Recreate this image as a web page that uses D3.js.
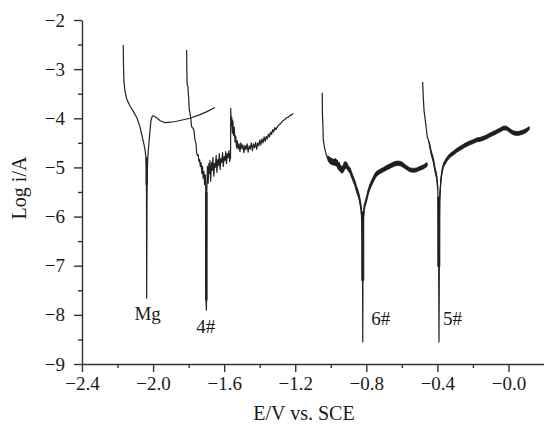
<!DOCTYPE html>
<html>
<head>
<meta charset="utf-8">
<script src="https://cdn.jsdelivr.net/npm/d3@7"></script>
<style>
  body { margin: 0; background: #fff; }
  text { font-family: "Liberation Serif", "Times New Roman", serif; fill: #1a1a1a; }
</style>
</head>
<body>
<div id="chart"></div>
<script>
// axis ticks
const xTicks = [-2.4, -2.0, -1.6, -1.2, -0.8, -0.4, 0.0];
const xTickLabels = ["−2.4", "−2.0", "−1.6", "−1.2", "−0.8", "−0.4", "−0.0"];
const xMinor = [-2.2, -1.8, -1.4, -1.0, -0.6, -0.2];
const yTicks = [-9, -8, -7, -6, -5, -4, -3, -2];
const yTickLabels = ["−9", "−8", "−7", "−6", "−5", "−4", "−3", "−2"];
const yMinor = [-8.5, -7.5, -6.5, -5.5, -4.5, -3.5, -2.5];

// sample names + where their labels sit (E, log i)
const sampleNames = ["Mg", "4#", "6#", "5#"];
const labelE = [-2.105, -1.757, -0.772, -0.369];
const labelLogI = [-8.10, -8.37, -8.20, -8.20];

// polarization curves, [E (V vs SCE), log i]
const mgCurve = [
  [-2.168, -2.51], [-2.166, -3.0], [-2.164, -3.25], [-2.158, -3.45], [-2.149, -3.6],
  [-2.130, -3.75], [-2.111, -3.86], [-2.090, -4.0], [-2.074, -4.17], [-2.064, -4.33],
  [-2.053, -4.5], [-2.045, -4.65], [-2.040, -4.8], [-2.038, -5.0], [-2.037, -5.6],
  [-2.036, -7.66], [-2.034, -5.6], [-2.032, -5.0], [-2.028, -4.7], [-2.022, -4.45],
  [-2.017, -4.24], [-2.012, -4.05], [-2.006, -3.97], [-1.999, -3.95], [-1.990, -3.97],
  [-1.980, -3.99], [-1.960, -4.05], [-1.933, -4.09], [-1.900, -4.08], [-1.867, -4.06],
  [-1.830, -4.03], [-1.792, -4.0], [-1.740, -3.93], [-1.700, -3.87], [-1.652, -3.78]
];

const s4Curve = [
  [-1.811, -2.61], [-1.810, -3.0], [-1.808, -3.32], [-1.804, -3.35], [-1.802, -3.5],
  [-1.800, -3.55], [-1.797, -3.8], [-1.792, -3.9], [-1.788, -4.0], [-1.785, -4.1],
  [-1.783, -4.17], [-1.776, -4.2], [-1.770, -4.24], [-1.767, -4.35], [-1.764, -4.44],
  [-1.758, -4.52], [-1.755, -4.7], [-1.750, -4.76], [-1.746, -4.74], [-1.742, -4.88],
  [-1.738, -4.84], [-1.734, -4.98], [-1.730, -4.9], [-1.726, -5.12], [-1.722, -4.98],
  [-1.718, -5.22], [-1.714, -5.08], [-1.710, -5.35], [-1.706, -5.15], [-1.703, -5.5],
  [-1.702, -7.7], [-1.700, -7.9], [-1.699, -7.7], [-1.698, -5.5],
  [-1.697, -5.4], [-1.694, -4.98], [-1.690, -5.32], [-1.686, -4.92], [-1.683, -5.12],
  [-1.680, -4.86], [-1.676, -5.28], [-1.671, -4.9], [-1.667, -5.06], [-1.663, -4.8],
  [-1.658, -5.18], [-1.654, -4.92], [-1.650, -5.0], [-1.645, -4.76], [-1.641, -5.1],
  [-1.636, -4.84], [-1.632, -4.96], [-1.627, -4.72], [-1.623, -5.04], [-1.618, -4.82],
  [-1.614, -4.9], [-1.609, -4.7], [-1.605, -4.98], [-1.600, -4.78], [-1.596, -4.86],
  [-1.591, -4.68], [-1.587, -4.92], [-1.582, -4.72], [-1.578, -4.8], [-1.573, -4.66],
  [-1.569, -4.88], [-1.565, -4.72], [-1.564, -4.82],
  [-1.563, -3.8], [-1.560, -4.15], [-1.557, -3.98], [-1.554, -4.3], [-1.551, -4.05],
  [-1.547, -4.35], [-1.543, -4.18], [-1.539, -4.48], [-1.535, -4.36], [-1.530, -4.6],
  [-1.526, -4.46], [-1.521, -4.63], [-1.516, -4.52], [-1.511, -4.68], [-1.506, -4.5],
  [-1.500, -4.62], [-1.495, -4.54], [-1.489, -4.7], [-1.483, -4.55], [-1.477, -4.64],
  [-1.471, -4.52], [-1.465, -4.69], [-1.459, -4.56], [-1.453, -4.63], [-1.447, -4.5],
  [-1.441, -4.66], [-1.435, -4.52], [-1.429, -4.6], [-1.423, -4.49], [-1.417, -4.63],
  [-1.411, -4.5], [-1.405, -4.56], [-1.399, -4.44], [-1.393, -4.54], [-1.387, -4.42],
  [-1.381, -4.5], [-1.375, -4.38], [-1.369, -4.47], [-1.363, -4.37], [-1.357, -4.42],
  [-1.351, -4.32], [-1.345, -4.38], [-1.339, -4.28], [-1.333, -4.33], [-1.327, -4.23],
  [-1.321, -4.28], [-1.315, -4.19], [-1.309, -4.23], [-1.300, -4.17], [-1.290, -4.13],
  [-1.280, -4.1], [-1.270, -4.05], [-1.260, -4.03], [-1.250, -3.99], [-1.240, -3.98],
  [-1.230, -3.94], [-1.220, -3.93], [-1.211, -3.90]
];

const s6Curve = [
  [-1.048, -3.48], [-1.047, -3.9], [-1.044, -4.17], [-1.042, -4.45], [-1.035, -4.6],
  [-1.027, -4.72], [-1.020, -4.8], [-1.012, -4.85], [-1.004, -4.8], [-1.000, -4.89],
  [-0.993, -4.82], [-0.986, -4.91], [-0.979, -4.84], [-0.967, -4.92], [-0.962, -4.86],
  [-0.958, -4.99], [-0.952, -4.9], [-0.948, -5.03], [-0.938, -5.07], [-0.930, -5.05],
  [-0.924, -4.9], [-0.920, -4.97], [-0.915, -4.9], [-0.910, -4.97], [-0.900, -5.04],
  [-0.892, -5.07], [-0.878, -5.2], [-0.864, -5.33], [-0.855, -5.45], [-0.845, -5.55],
  [-0.838, -5.65], [-0.830, -5.82], [-0.825, -6.05], [-0.822, -6.6], [-0.821, -7.3],
  [-0.820, -8.55], [-0.819, -7.3], [-0.818, -6.5], [-0.816, -5.98], [-0.812, -5.83],
  [-0.807, -5.76], [-0.799, -5.65], [-0.789, -5.5], [-0.779, -5.39], [-0.765, -5.28],
  [-0.751, -5.18], [-0.742, -5.13], [-0.725, -5.09], [-0.704, -5.05], [-0.685, -5.01],
  [-0.657, -4.96], [-0.640, -4.93], [-0.620, -4.92], [-0.605, -4.93], [-0.592, -4.96],
  [-0.575, -5.0], [-0.554, -5.05], [-0.535, -5.06], [-0.517, -5.05], [-0.500, -5.02],
  [-0.479, -4.99], [-0.455, -4.94]
];

const s5Curve = [
  [-0.483, -3.26], [-0.479, -3.6], [-0.475, -3.85], [-0.466, -4.1], [-0.457, -4.375],
  [-0.446, -4.5], [-0.435, -4.7], [-0.423, -4.85], [-0.413, -5.05], [-0.404, -5.19],
  [-0.398, -5.4], [-0.396, -5.7], [-0.395, -5.93], [-0.393, -7.0], [-0.391, -8.55],
  [-0.389, -7.0], [-0.388, -6.0], [-0.386, -5.56], [-0.380, -5.25], [-0.374, -5.08],
  [-0.365, -4.95], [-0.348, -4.84], [-0.330, -4.76], [-0.311, -4.71], [-0.290, -4.65],
  [-0.263, -4.59], [-0.240, -4.54], [-0.217, -4.5], [-0.195, -4.47], [-0.179, -4.44],
  [-0.160, -4.43], [-0.130, -4.39], [-0.104, -4.34], [-0.075, -4.29], [-0.048, -4.24],
  [-0.029, -4.2], [-0.012, -4.2], [0.000, -4.23], [0.015, -4.27], [0.030, -4.3],
  [0.050, -4.31], [0.065, -4.3], [0.083, -4.28], [0.100, -4.25], [0.117, -4.2]
];

const mgNoise = [[-2.040, -5.35, -4.8], [-2.033, -5.35, -4.8]];
const s4Noise = [[-1.705, -7.7, -5.5], [-1.696, -7.7, -5.5]];
const s6Noise = [
  [[-1.016, -4.86, -4.76], [-1.005, -4.92, -4.8], [-0.995, -4.94, -4.82], [-0.986, -4.95, -4.84],
   [-0.975, -4.96, -4.82], [-0.967, -4.97, -4.84], [-0.958, -5.04, -4.9], [-0.948, -5.08, -4.94],
   [-0.938, -5.12, -4.98], [-0.930, -5.1, -4.96], [-0.920, -5.02, -4.88], [-0.910, -5.02, -4.9],
   [-0.900, -5.08, -4.98], [-0.892, -5.12, -5.0], [-0.878, -5.25, -5.14], [-0.864, -5.38, -5.27],
   [-0.855, -5.5, -5.38], [-0.845, -5.6, -5.48], [-0.838, -5.7, -5.58], [-0.830, -5.88, -5.74],
   [-0.826, -6.1, -5.9]],
  [[-0.826, -7.3, -5.9], [-0.814, -7.3, -5.9]],
  [[-0.816, -6.05, -5.9], [-0.812, -5.88, -5.76], [-0.807, -5.8, -5.7], [-0.799, -5.7, -5.59],
   [-0.789, -5.55, -5.44], [-0.779, -5.44, -5.33], [-0.765, -5.33, -5.22], [-0.751, -5.23, -5.12],
   [-0.742, -5.18, -5.08], [-0.725, -5.13, -5.04], [-0.704, -5.09, -5.0], [-0.685, -5.05, -4.96],
   [-0.657, -5.0, -4.91], [-0.640, -4.97, -4.88], [-0.620, -4.96, -4.87], [-0.605, -4.97, -4.88],
   [-0.592, -5.0, -4.91], [-0.575, -5.04, -4.96], [-0.554, -5.09, -5.01], [-0.535, -5.1, -5.02],
   [-0.517, -5.09, -5.01], [-0.500, -5.06, -4.98], [-0.479, -5.03, -4.95], [-0.458, -4.98, -4.9]]
];
const s5Noise = [
  [[-0.446, -4.53, -4.47], [-0.435, -4.74, -4.66], [-0.423, -4.9, -4.8], [-0.413, -5.1, -5.0],
   [-0.404, -5.24, -5.14], [-0.399, -5.45, -5.35]],
  [[-0.398, -7.02, -5.6], [-0.386, -7.02, -5.6]],
  [[-0.386, -5.62, -5.5], [-0.380, -5.3, -5.2], [-0.374, -5.12, -5.04], [-0.365, -4.99, -4.91],
   [-0.348, -4.88, -4.8], [-0.330, -4.8, -4.72], [-0.311, -4.75, -4.67], [-0.290, -4.69, -4.61],
   [-0.263, -4.63, -4.55], [-0.240, -4.58, -4.5], [-0.217, -4.54, -4.46], [-0.195, -4.51, -4.43],
   [-0.179, -4.48, -4.4], [-0.160, -4.47, -4.39], [-0.130, -4.43, -4.35], [-0.104, -4.38, -4.3],
   [-0.075, -4.33, -4.25], [-0.048, -4.28, -4.2], [-0.029, -4.24, -4.16], [-0.012, -4.24, -4.16],
   [0.000, -4.27, -4.19], [0.015, -4.31, -4.23], [0.030, -4.34, -4.26], [0.050, -4.35, -4.27],
   [0.065, -4.34, -4.26], [0.083, -4.32, -4.24], [0.100, -4.29, -4.21], [0.117, -4.23, -4.17]]
];

const width = 544, height = 436;

const svg = d3.select("#chart").append("svg")
    .attr("width", width)
    .attr("height", height);

const x = d3.scaleLinear().domain([-2.4, 0.2]).range([82, 544]);
const y = d3.scaleLinear().domain([-9, -2]).range([364, 20]);

const axisColor = "#333";

// x axis
svg.append("g")
    .attr("transform", `translate(0,${y(-9)})`)
    .call(d3.axisBottom(x).tickValues(xTicks).tickSize(8).tickSizeOuter(0).tickPadding(5)
        .tickFormat((d, i) => xTickLabels[i]));
svg.append("g")
    .attr("transform", `translate(0,${y(-9)})`)
    .call(d3.axisBottom(x).tickValues(xMinor).tickSize(4).tickFormat(""))
    .call(g => g.select(".domain").remove());

// y axis
svg.append("g")
    .attr("transform", `translate(${x(-2.4)},0)`)
    .call(d3.axisLeft(y).tickValues(yTicks).tickSize(8).tickSizeOuter(0).tickPadding(9)
        .tickFormat((d, i) => yTickLabels[i]));
svg.append("g")
    .attr("transform", `translate(${x(-2.4)},0)`)
    .call(d3.axisLeft(y).tickValues(yMinor).tickSize(4).tickFormat(""))
    .call(g => g.select(".domain").remove());

svg.selectAll(".domain, .tick line")
    .attr("stroke", axisColor)
    .attr("stroke-width", 1.4);
svg.selectAll(".tick text")
    .attr("font-family", null)
    .attr("font-size", 19)
    .attr("fill", "#1a1a1a");

// axis titles
svg.append("text")
    .attr("x", 304)
    .attr("y", 420)
    .attr("text-anchor", "middle")
    .attr("font-size", 20)
    .text("E/V vs. SCE");

svg.append("text")
    .attr("transform", "translate(26,188) rotate(-90)")
    .attr("text-anchor", "middle")
    .attr("font-size", 20)
    .text("Log i/A");

// curves
const line = d3.line()
    .x(d => x(d[0]))
    .y(d => y(d[1]));

const band = d3.area()
    .x(d => x(d[0]))
    .y0(d => y(d[1]))
    .y1(d => y(d[2]));

const plot = svg.append("g");

const bands = [[mgNoise], [s4Noise], s6Noise, s5Noise];
bands.forEach(list => {
    list.forEach(b => {
        plot.append("path")
            .attr("d", band(b))
            .attr("fill", "#1a1a1a")
            .attr("stroke", "#1a1a1a")
            .attr("stroke-width", 0.8);
    });
});

const curves = [mgCurve, s4Curve, s6Curve, s5Curve];
plot.selectAll(".curve")
    .data(curves)
    .join("path")
    .attr("class", "curve")
    .attr("d", line)
    .attr("fill", "none")
    .attr("stroke", "#222")
    .attr("stroke-width", 1.2)
    .attr("stroke-linejoin", "round");

// sample labels
plot.selectAll(".sample")
    .data(sampleNames)
    .join("text")
    .attr("class", "sample")
    .attr("x", (d, i) => x(labelE[i]))
    .attr("y", (d, i) => y(labelLogI[i]))
    .attr("font-size", 19)
    .text(d => d);
</script>
</body>
</html>
